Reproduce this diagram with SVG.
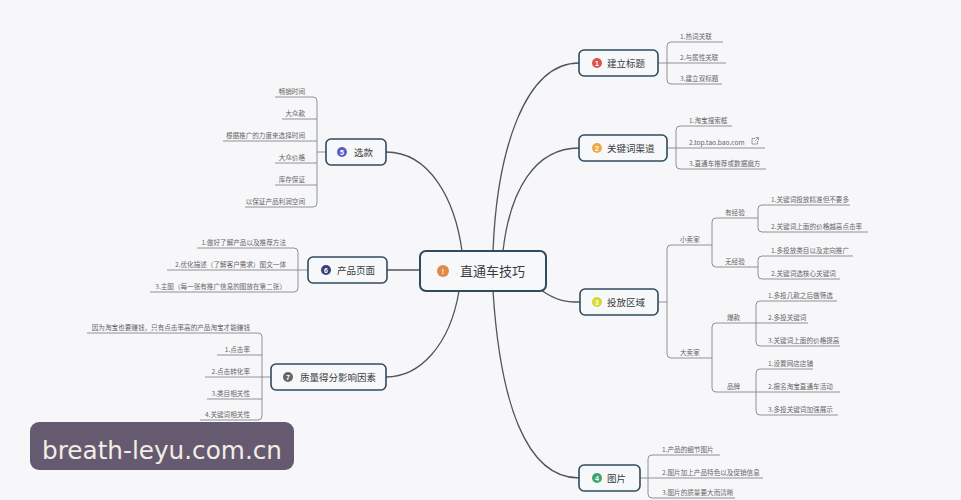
<svg xmlns="http://www.w3.org/2000/svg" width="961" height="500" viewBox="0 0 961 500">
<style>
.bg{fill:#f7f7f9}
.box{fill:#f6f8fa;stroke:#2f4b5f;stroke-width:1.6}
.bt{font-family:"Noto Sans CJK SC","Noto Sans",sans-serif;font-size:9.5px;fill:#3a3a3a}
.ct{font-family:"Noto Sans CJK SC","Noto Sans",sans-serif;font-size:13px;fill:#3a3a3a}
.lt{font-family:"Noto Sans CJK SC","Noto Sans",sans-serif;font-size:6.6px;fill:#666}
.le{font-family:"Noto Sans CJK SC","Noto Sans",sans-serif;font-size:6.6px;fill:#666;text-anchor:end}
.num{font-family:"Liberation Sans",sans-serif;font-size:7px;font-weight:bold;fill:#fff;text-anchor:middle}
.conn{fill:none;stroke:#4b5661;stroke-width:1.3}
.ll{fill:none;stroke:#80868d;stroke-width:0.9}
</style>
<rect class="bg" x="0" y="0" width="961" height="500"/>

<g id="connectors">
  <path class="conn" d="M493 251 C497 150 525 63 579 63"/>
  <path class="conn" d="M503 251 C510 190 535 148 579 148"/>
  <path class="conn" d="M541 290 C555 300 565 302 580 302"/>
  <path class="conn" d="M493 291 C500 400 525 478 579 478"/>
  <path class="conn" d="M462 251 C455 200 430 152 386 152"/>
  <path class="conn" d="M387 270 H420"/>
  <path class="conn" d="M459 291 C450 345 420 377 386 377"/>
</g>

<g id="center">
  <rect class="box" x="420" y="251" width="126" height="40" rx="6" style="stroke-width:2"/>
  <circle cx="443" cy="271" r="6" fill="#e08a4a"/>
  <text class="num" x="443" y="273.5">!</text>
  <text class="ct" x="460" y="275.5">直通车技巧</text>
</g>

<g id="n-title">
  <path class="ll" d="M658 63 H726 M723 42 H671 Q667 42 667 46 V80 Q667 84 671 84 H722"/>
  <rect class="box" x="579" y="50" width="79" height="26" rx="5"/>
  <circle cx="597" cy="63" r="5" fill="#d9534f"/>
  <text class="num" x="597" y="65.5">1</text>
  <text class="bt" x="607" y="66.5">建立标题</text>
  <text class="lt" x="680" y="39">1.热词关联</text>
  <text class="lt" x="680" y="60">2.与属性关联</text>
  <text class="lt" x="680" y="81">3.建立双标题</text>
</g>

<g id="n-keyword">
  <path class="ll" d="M667 148 H765 M732 126 H680 Q676 126 676 130 V165 Q676 169 680 169 H766"/>
  <rect class="box" x="579" y="135" width="88" height="26" rx="5"/>
  <circle cx="597" cy="148" r="5" fill="#f0a848"/>
  <text class="num" x="597" y="150.5">2</text>
  <text class="bt" x="607" y="151.5">关键词渠道</text>
  <text class="lt" x="689" y="123">1.淘宝搜索框</text>
  <text class="lt" x="689" y="145">2.top.tao.bao.com</text>
  <path d="M755 138.5 h-3 v5.5 h5.5 v-3 M755.5 137.5 h3 v3 M758.5 137.5 l-3.5 3.5" fill="none" stroke="#777" stroke-width="0.7"/>
  <text class="lt" x="689" y="166">3.直通车推荐或数据魔方</text>
</g>

<g id="n-area">
  <path class="ll" d="M658 302 H667 M712 245 H671 Q667 245 667 249 V354 Q667 358 671 358 H712"/>
  <path class="ll" d="M758 218 H716 Q712 218 712 222 V263 Q712 267 716 267 H758"/>
  <path class="ll" d="M850 205 H762 Q758 205 758 209 V228 Q758 232 762 232 H868"/>
  <path class="ll" d="M853 256 H762 Q758 256 758 260 V275 Q758 279 762 279 H840"/>
  <path class="ll" d="M756 323 H716 Q712 323 712 327 V388 Q712 392 716 392 H756"/>
  <path class="ll" d="M837 301 H760 Q756 301 756 305 V342 Q756 346 760 346 H840 M756 323 H808"/>
  <path class="ll" d="M813 369 H760 Q756 369 756 373 V411 Q756 415 760 415 H838 M756 392 H840"/>
  <rect class="box" x="580" y="289" width="78" height="26" rx="5"/>
  <circle cx="597" cy="302" r="5" fill="#d6d82c"/>
  <text class="num" x="597" y="304.5">3</text>
  <text class="bt" x="607" y="305.5">投放区域</text>
  <text class="lt" x="680" y="242">小卖家</text>
  <text class="lt" x="680" y="355">大卖家</text>
  <text class="lt" x="725" y="215">有经验</text>
  <text class="lt" x="725" y="264">无经验</text>
  <text class="lt" x="771" y="202">1.关键词投放精准但不要多</text>
  <text class="lt" x="771" y="229">2.关键词上面的价格越高点击率</text>
  <text class="lt" x="771" y="253">1.多投放类目以及定向推广</text>
  <text class="lt" x="771" y="276">2.关键词选核心关键词</text>
  <text class="lt" x="727" y="320">爆款</text>
  <text class="lt" x="727" y="389">品牌</text>
  <text class="lt" x="768" y="298">1.多投几款之后做筛选</text>
  <text class="lt" x="768" y="320">2.多投关键词</text>
  <text class="lt" x="768" y="343">3.关键词上面的价格提高</text>
  <text class="lt" x="768" y="366">1.设置网店店铺</text>
  <text class="lt" x="768" y="389">2.报名淘宝直通车活动</text>
  <text class="lt" x="768" y="412">3.多投关键词加强展示</text>
</g>

<g id="n-picture">
  <path class="ll" d="M640 478 H763 M720 455 H652 Q648 455 648 459 V494 Q648 498 652 498 H735"/>
  <rect class="box" x="579" y="465" width="61" height="26" rx="5"/>
  <circle cx="597" cy="478" r="5" fill="#3aa76d"/>
  <text class="num" x="597" y="480.5">4</text>
  <text class="bt" x="607" y="481.5">图片</text>
  <text class="lt" x="662" y="452">1.产品的细节图片</text>
  <text class="lt" x="662" y="475">2.图片加上产品特色以及促销信息</text>
  <text class="lt" x="662" y="495">3.图片的质量要大而清晰</text>
</g>

<g id="n-select">
  <path class="ll" d="M326 152 H317 M275 97 H313 Q317 97 317 101 V203 Q317 207 313 207 H245 M282 119 H317 M223 141 H317 M275 163 H317 M275 185 H317"/>
  <rect class="box" x="326" y="139" width="60" height="26" rx="5"/>
  <circle cx="342" cy="152" r="5" fill="#5a60c2"/>
  <text class="num" x="342" y="154.5">5</text>
  <text class="bt" x="354" y="155.5">选款</text>
  <text class="le" x="305" y="94">畅销时间</text>
  <text class="le" x="305" y="116">大众款</text>
  <text class="le" x="305" y="138">根据推广的力度来选择时间</text>
  <text class="le" x="305" y="160">大众价格</text>
  <text class="le" x="305" y="182">库存保证</text>
  <text class="le" x="305" y="204">以保证产品利润空间</text>
</g>

<g id="n-page">
  <path class="ll" d="M308 270 H167 M197 248 H294 Q298 248 298 252 V288 Q298 292 294 292 H150"/>
  <rect class="box" x="308" y="257" width="79" height="26" rx="5"/>
  <circle cx="326" cy="270" r="5" fill="#3b3f78"/>
  <text class="num" x="326" y="272.5">6</text>
  <text class="bt" x="337" y="273.5">产品页面</text>
  <text class="le" x="286" y="245">1.做好了解产品以及推荐方法</text>
  <text class="le" x="286" y="267">2.优化描述（了解客户需求）图文一体</text>
  <text class="le" x="286" y="289">3.主图（每一张有推广信息的图放在第二张）</text>
</g>

<g id="n-quality">
  <path class="ll" d="M271 377 H205 M87 333 H258 Q262 333 262 337 V416 Q262 420 258 420 H200 M217 355 H262 M207 399 H262"/>
  <rect class="box" x="271" y="364" width="115" height="26" rx="5"/>
  <circle cx="288" cy="377" r="5" fill="#666"/>
  <text class="num" x="288" y="379.5">7</text>
  <text class="bt" x="300" y="380.5">质量得分影响因素</text>
  <text class="le" x="250" y="330">因为淘宝也要赚钱，只有点击率高的产品淘宝才能赚钱</text>
  <text class="le" x="250" y="352">1.点击率</text>
  <text class="le" x="250" y="374">2.点击转化率</text>
  <text class="le" x="250" y="396">3.类目相关性</text>
  <text class="le" x="250" y="417">4.关键词相关性</text>
</g>

<g id="watermark">
  <rect x="30" y="422" width="264" height="48" rx="9" fill="#655a70"/>
  <text x="42" y="459" font-family="DejaVu Sans, sans-serif" font-size="25" fill="#f3ede6" textLength="240" lengthAdjust="spacingAndGlyphs">breath-leyu.com.cn</text>
</g>
</svg>
